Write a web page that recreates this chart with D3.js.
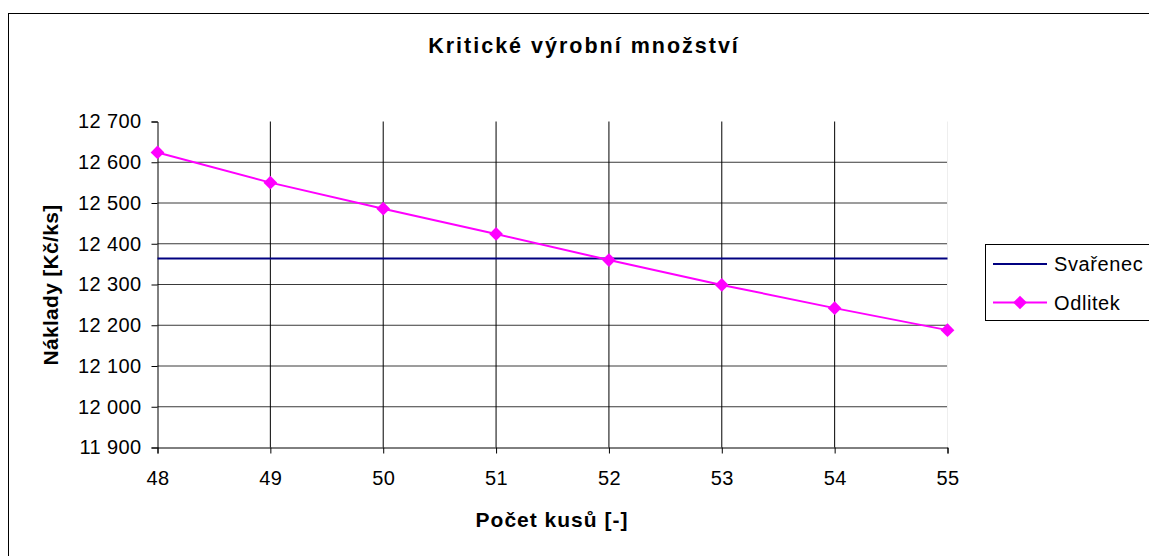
<!DOCTYPE html>
<html>
<head>
<meta charset="utf-8">
<script src="https://cdn.jsdelivr.net/npm/d3@7"></script>
<style>
  html, body { margin: 0; padding: 0; background: #fff; }
  svg { display: block; }
  text { font-family: "Liberation Sans", Arial, sans-serif; fill: #000; }
</style>
</head>
<body>
<svg id="chart" width="1149" height="556"></svg>
<script>
// Počet kusů (x) a náklady na kus pro obě varianty
const pocetKusu = [48, 49, 50, 51, 52, 53, 54, 55];
const svarenec = [12364, 12364, 12364, 12364, 12364, 12364, 12364, 12364];
const odlitek = [12624, 12550, 12486, 12424, 12360, 12299, 12242, 12188];
const yTicks = [11900, 12000, 12100, 12200, 12300, 12400, 12500, 12600, 12700];
const seriesNames = ["Svařenec", "Odlitek"];
const seriesColors = ["#000080", "#FF00FF"];

const svg = d3.select("#chart");

// Czech number format with a space as the thousands separator
const cz = d3.formatLocale({ decimal: ",", thousands: "\u00a0", grouping: [3], currency: ["", " Kč"] });
const fmt = v => cz.format(",d")(v).replace("\u00a0", " ");

const x = d3.scaleLinear().domain([48, 55]).range([157.5, 947.5]);
const y = d3.scaleLinear().domain([11900, 12700]).range([447.5, 121.5]);

// Outer chart frame
svg.append("rect")
  .attr("x", 8.5).attr("y", 13.5)
  .attr("width", 1200).attr("height", 600)
  .attr("fill", "#fff").attr("stroke", "#000").attr("stroke-width", 1);

// Title
svg.append("text")
  .attr("x", 584).attr("y", 53)
  .attr("text-anchor", "middle")
  .style("font-size", "21.5px").style("font-weight", "bold")
  .style("letter-spacing", "2px")
  .text("Kritické výrobní množství");

// Horizontal gridlines (between the axis and the top of the plot)
svg.append("g").selectAll("line")
  .data(yTicks.filter(v => v > 11900 && v < 12700))
  .join("line")
  .attr("x1", x(48)).attr("x2", x(55))
  .attr("y1", d => y(d)).attr("y2", d => y(d))
  .attr("stroke", "#3a3a3a").attr("stroke-width", 1);

// Vertical gridlines
svg.append("g").selectAll("line")
  .data(pocetKusu.filter(v => v > 48))
  .join("line")
  .attr("x1", d => x(d)).attr("x2", d => x(d))
  .attr("y1", y(12700)).attr("y2", y(11900))
  .attr("stroke", d => d === 55 ? "#eeeeee" : "#000")
  .attr("stroke-width", 1);

// Y axis
const yAxis = svg.append("g")
  .attr("transform", `translate(${x(48)},0)`)
  .call(d3.axisLeft(y).tickValues(yTicks).tickFormat(fmt).tickSize(6).tickPadding(10));
yAxis.selectAll("text").style("font-size", "20px").style("letter-spacing", "0.4px");

// X axis
const xAxis = svg.append("g")
  .attr("transform", `translate(0,${y(11900)})`)
  .call(d3.axisBottom(x).tickValues(pocetKusu).tickFormat(d3.format("d")).tickSize(6).tickPadding(17));
xAxis.selectAll("text").style("font-size", "20px").style("letter-spacing", "0.4px");

svg.selectAll(".domain, .tick line").attr("stroke", "#000").attr("stroke-width", 1);

// Axis titles
svg.append("text")
  .attr("transform", "translate(58,285) rotate(-90)")
  .attr("text-anchor", "middle")
  .style("font-size", "21px").style("font-weight", "bold")
  .style("letter-spacing", "0.3px")
  .text("Náklady [Kč/ks]");

svg.append("text")
  .attr("x", 552).attr("y", 527)
  .attr("text-anchor", "middle")
  .style("font-size", "21px").style("font-weight", "bold")
  .style("letter-spacing", "1px")
  .text("Počet kusů [-]");

// Series lines
const line = d3.line().x((d, i) => x(pocetKusu[i])).y(d => y(d));

svg.append("path")
  .datum(svarenec)
  .attr("d", line)
  .attr("fill", "none").attr("stroke", seriesColors[0]).attr("stroke-width", 2);

svg.append("path")
  .datum(odlitek)
  .attr("d", line)
  .attr("fill", "none").attr("stroke", seriesColors[1]).attr("stroke-width", 2);

// Diamond markers for Odlitek
const diamond = d3.symbol().type(d3.symbolDiamond2).size(120);
svg.append("g").selectAll("path")
  .data(odlitek)
  .join("path")
  .attr("d", diamond)
  .attr("transform", (d, i) => `translate(${x(pocetKusu[i])},${y(d)})`)
  .attr("fill", seriesColors[1]);

// Legend
const legend = svg.append("g");
legend.append("rect")
  .attr("x", 985.5).attr("y", 244.5)
  .attr("width", 300).attr("height", 76)
  .attr("fill", "#fff").attr("stroke", "#000").attr("stroke-width", 1);

const rowsY = [264, 302.5];
seriesNames.forEach((name, i) => {
  legend.append("line")
    .attr("x1", 993).attr("x2", 1047)
    .attr("y1", rowsY[i]).attr("y2", rowsY[i])
    .attr("stroke", seriesColors[i]).attr("stroke-width", 2);
  if (i === 1) {
    legend.append("path")
      .attr("d", diamond)
      .attr("transform", `translate(1020,${rowsY[i]})`)
      .attr("fill", seriesColors[i]);
  }
  legend.append("text")
    .attr("x", 1054).attr("y", rowsY[i])
    .attr("dy", "0.35em")
    .style("font-size", "20px")
    .style("letter-spacing", "0.6px")
    .text(name);
});
</script>
</body>
</html>
